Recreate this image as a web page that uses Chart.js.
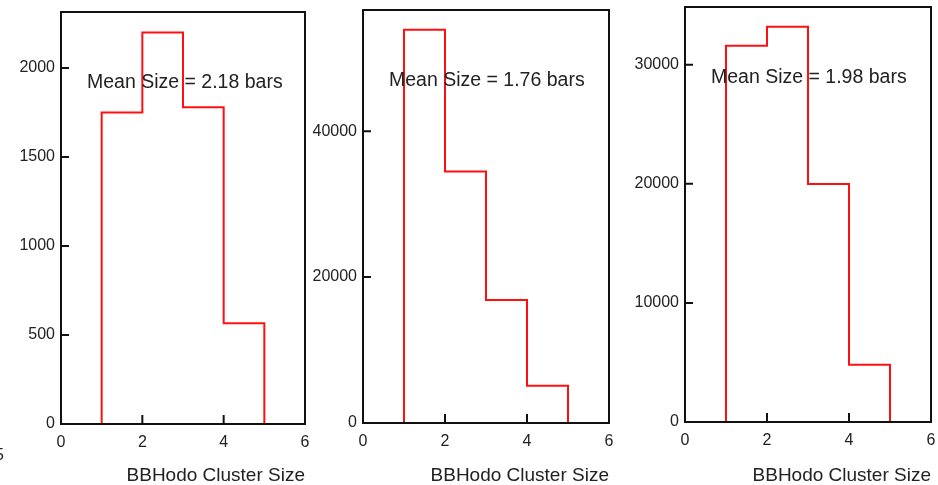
<!DOCTYPE html>
<html>
<head>
<meta charset="utf-8">
<script src="https://cdn.jsdelivr.net/npm/chart.js@4/dist/chart.umd.min.js"></script>
<style>
  html, body { margin: 0; padding: 0; background: #fff; }
  body { width: 938px; height: 485px; position: relative; overflow: hidden; }
  .panel { position: absolute; top: 0; height: 485px; }
  .panel canvas { display: block; }
</style>
</head>
<body>
<div class="panel" style="left:0px"><canvas id="c1" width="310" height="485"></canvas></div>
<div class="panel" style="left:310px"><canvas id="c2" width="310" height="485"></canvas></div>
<div class="panel" style="left:620px"><canvas id="c3" width="318" height="485"></canvas></div>
<script>
/* ── Datos: histogramas de tamaño de cluster ── */
const binEdges   = [1, 2, 3, 4, 5];
const counts1    = [1750, 2200, 1780, 566];
const counts2    = [53900, 34450, 16850, 5100];
const counts3    = [31600, 33200, 19980, 4800];
const meanLabels = ['Mean Size = 2.18 bars', 'Mean Size = 1.76 bars', 'Mean Size = 1.98 bars'];
const xTicks     = [0, 2, 4, 6];
const yTicks1    = [0, 500, 1000, 1500, 2000];
const yTicks2    = [0, 20000, 40000];
const yTicks3    = [0, 10000, 20000, 30000];
const yMax       = [2315, 56600, 34850];
const xTitle     = 'BBHodo Cluster Size';

const FONT = "'Liberation Sans', Arial, Helvetica, sans-serif";
const TEXT = '#222';

// histograma -> puntos escalonados
function histPoints(counts) {
  const pts = [{ x: binEdges[0], y: 0 }];
  counts.forEach((c, i) => pts.push({ x: binEdges[i], y: c }));
  pts.push({ x: binEdges[binEdges.length - 1], y: 0 });
  return pts;
}

// marco + ticks hacia dentro + texto de la media
const framePlugin = {
  id: 'frame',
  afterDatasetsDraw(chart, args, opts) {
    const { ctx, chartArea: a, scales } = chart;
    ctx.save();
    ctx.strokeStyle = '#111';
    ctx.lineWidth = 2;
    ctx.strokeRect(a.left, a.top, a.right - a.left, a.bottom - a.top);

    ctx.beginPath();
    scales.x.ticks.forEach(t => {
      if (t.value <= scales.x.min || t.value >= scales.x.max) return;
      const px = scales.x.getPixelForValue(t.value);
      ctx.moveTo(px, a.bottom);
      ctx.lineTo(px, a.bottom - 9);
    });
    scales.y.ticks.forEach(t => {
      if (t.value <= 0 || t.value >= scales.y.max) return;
      const py = scales.y.getPixelForValue(t.value);
      ctx.moveTo(a.left - 1, py);
      ctx.lineTo(a.left + 8, py);
    });
    ctx.stroke();

    ctx.fillStyle = TEXT;
    ctx.font = `19.5px ${FONT}`;
    ctx.textAlign = 'left';
    ctx.textBaseline = 'middle';
    ctx.fillText(opts.label, a.left + 26, a.top + 71);

    if (opts.stray) {
      ctx.font = `16px ${FONT}`;
      ctx.textAlign = 'right';
      ctx.fillText('5', 4, 456);
    }
    ctx.restore();
  }
};

const panels = [
  { id: 'c1', counts: counts1, yTicks: yTicks1, yAxisW: 61, top: 12, bottom: 424, padRight: 5 },
  { id: 'c2', counts: counts2, yTicks: yTicks2, yAxisW: 53, top: 10, bottom: 423, padRight: 11 },
  { id: 'c3', counts: counts3, yTicks: yTicks3, yAxisW: 65, top: 7,  bottom: 422, padRight: 7 },
];

panels.forEach((p, i) => {
  new Chart(document.getElementById(p.id), {
    type: 'line',
    data: {
      datasets: [{
        data: histPoints(p.counts),
        stepped: 'before',
        borderColor: '#ff1010',
        borderWidth: 2,
        pointRadius: 0,
        fill: false,
      }],
    },
    options: {
      responsive: false,
      animation: false,
      layout: { padding: { top: p.top, right: p.padRight, left: 0, bottom: 0 } },
      plugins: {
        legend: { display: false },
        tooltip: { enabled: false },
        frame: { label: meanLabels[i], stray: i === 0 },
      },
      scales: {
        x: {
          type: 'linear',
          min: 0, max: 6,
          afterBuildTicks: s => { s.ticks = xTicks.map(v => ({ value: v })); },
          afterFit: s => { s.height = 485 - p.bottom; s.paddingLeft = 0; s.paddingRight = 0; },
          grid: { display: false, drawTicks: false },
          border: { display: false },
          ticks: {
            color: TEXT, font: { family: FONT, size: 16 }, padding: 9,
            maxRotation: 0, autoSkip: false, callback: v => String(v),
          },
          title: {
            display: true, text: xTitle, align: 'end',
            color: TEXT, font: { family: FONT, size: 19 },
            padding: { top: 0, bottom: -2 },
          },
        },
        y: {
          min: 0, max: yMax[i],
          afterBuildTicks: s => { s.ticks = p.yTicks.map(v => ({ value: v })); },
          afterFit: s => { s.width = p.yAxisW; s.paddingTop = 0; s.paddingBottom = 0; },
          grid: { display: false, drawTicks: false },
          border: { display: false },
          ticks: {
            color: TEXT, font: { family: FONT, size: 16 }, padding: 6,
            autoSkip: false, callback: v => String(v),
          },
        },
      },
    },
    plugins: [framePlugin],
  });
});
</script>
</body>
</html>
